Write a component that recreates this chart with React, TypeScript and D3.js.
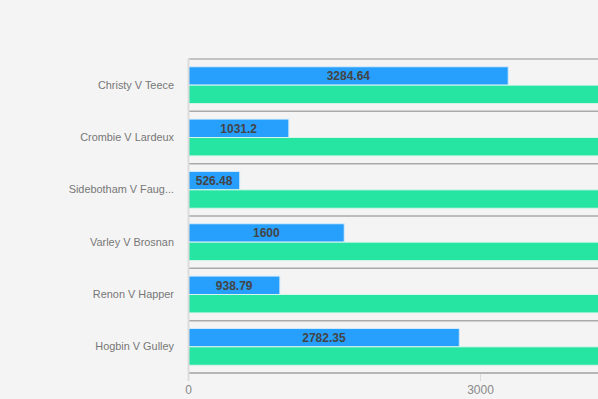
import React from "react";
import * as d3 from "d3";

const categories = [
  "Christy V Teece",
  "Crombie V Lardeux",
  "Sidebotham V Faug...",
  "Varley V Brosnan",
  "Renon V Happer",
  "Hogbin V Gulley",
];
const blueValues = [3284.64, 1031.2, 526.48, 1600, 938.79, 2782.35];
const greenValues = [5000, 5000, 5000, 5000, 5000, 5000];
const tickValues = [0, 3000];

const W = 598;
const H = 399;
const left = 188.5;
const top = 59;
const bottom = 373;
const font = "'Liberation Sans', Arial, Helvetica, sans-serif";

export default function App() {
  const x = d3.scaleLinear().domain([0, 3000]).range([left, left + 292]);
  const y = d3.scaleBand<string>().domain(categories).range([top, bottom]).paddingInner(0).paddingOuter(0);
  const bw = y.bandwidth();
  const pad = bw * 0.148;
  const barH = (bw - 2 * pad) / 2;

  return (
    <svg width={W} height={H} style={{ position: "absolute", left: 0, top: 0, background: "#f4f4f4" }}>
      <rect x={0} y={0} width={W} height={H} fill="#f4f4f4" />
      {categories.map((c, i) =>
        i === 0 ? null : (
          <line key={"s" + i} x1={left} x2={W} y1={y(c)!} y2={y(c)!} stroke="#aaa" strokeWidth={1.5} />
        )
      )}
      <line x1={left} x2={W} y1={top} y2={top} stroke="#c2c2c2" strokeWidth={2} />
      <line x1={left} x2={W} y1={bottom} y2={bottom} stroke="#a0a0a0" strokeWidth={1.5} />
      {categories.map((c, i) => {
        const y0 = y(c)! + pad;
        return (
          <g key={"b" + i}>
            <rect
              x={x(0)}
              y={y0}
              width={x(blueValues[i]) - x(0)}
              height={barH}
              fill="#279ffd"
              stroke="#d8ecfb"
              strokeWidth={1}
            />
            <rect
              x={x(0)}
              y={y0 + barH}
              width={x(greenValues[i]) - x(0)}
              height={barH}
              fill="#26e5a3"
              stroke="#d8f5ea"
              strokeWidth={1}
            />
          </g>
        );
      })}
      {categories.map((c, i) => (
        <text
          key={"v" + i}
          x={(x(0) + x(blueValues[i])) / 2}
          y={y(c)! + pad + barH / 2 + 4.3}
          textAnchor="middle"
          fontFamily={font}
          fontSize={12}
          fontWeight="bold"
          fill="#444"
        >
          {blueValues[i]}
        </text>
      ))}
      {categories.map((c, i) => (
        <text
          key={"c" + i}
          x={174}
          y={y(c)! + bw / 2 + 3.5}
          textAnchor="end"
          fontFamily={font}
          fontSize={10.9}
          fill="#777"
        >
          {c}
        </text>
      ))}
      <line x1={left} x2={left} y1={top - 1} y2={381} stroke="#dcdcdc" strokeWidth={2} />
      {tickValues.map((t) => (
        <g key={"t" + t}>
          {t !== 0 && <line x1={x(t)} x2={x(t)} y1={bottom + 1} y2={381} stroke="#dcdcdc" strokeWidth={1} />}
          <text
            x={x(t)}
            y={394}
            textAnchor="middle"
            fontFamily={font}
            fontSize={12}
            fill="#888"
          >
            {t}
          </text>
        </g>
      ))}
    </svg>
  );
}
